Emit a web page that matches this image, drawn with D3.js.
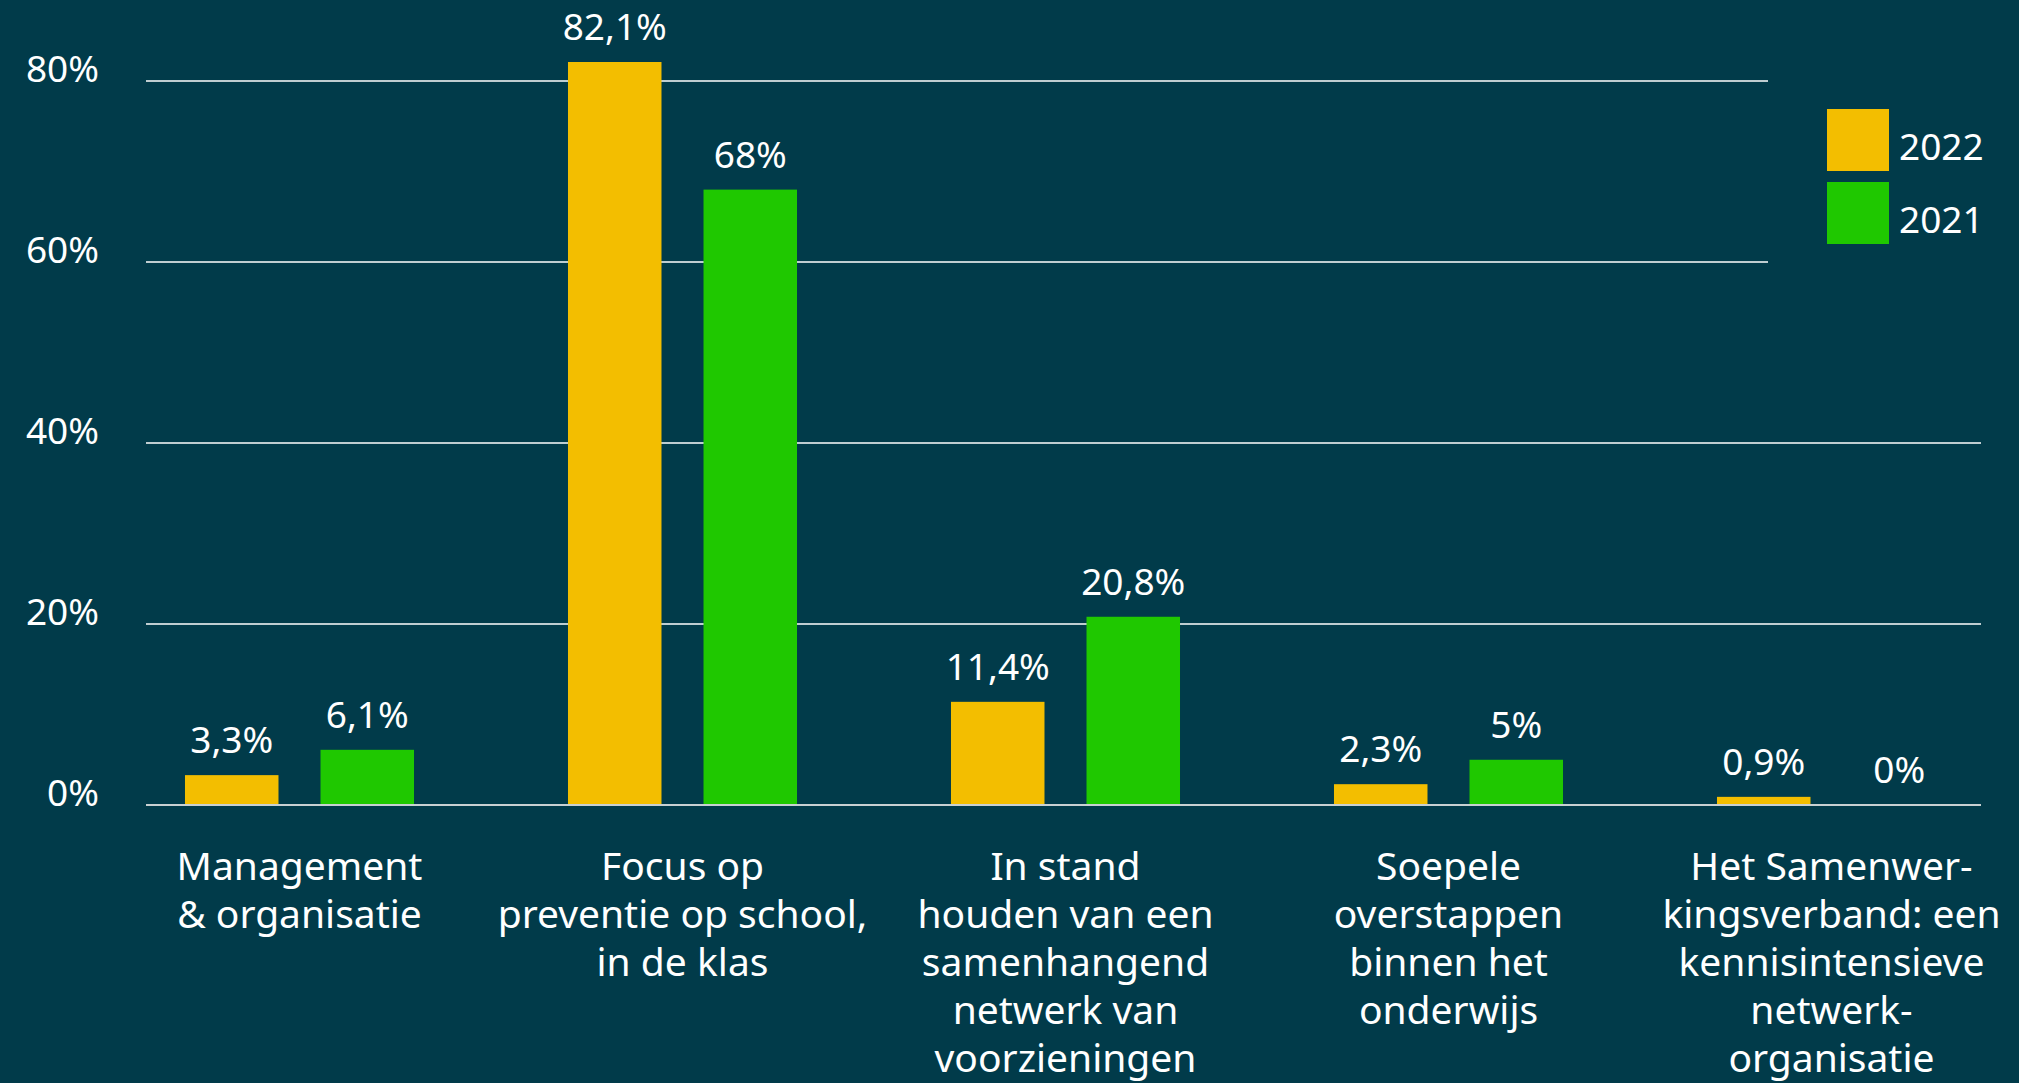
<!DOCTYPE html>
<html>
<head>
<meta charset="utf-8">
<script src="https://cdn.jsdelivr.net/npm/d3@7"></script>
<style>
  html, body { margin: 0; padding: 0; background: #013b4a; }
  svg { display: block; font-family: 'Noto Sans', sans-serif; }
</style>
</head>
<body>
<svg id="chart" width="2019" height="1083"></svg>
<script>
// data
const categories = ['Management & organisatie', 'Focus op preventie op school, in de klas',
  'In stand houden van een samenhangend netwerk van voorzieningen',
  'Soepele overstappen binnen het onderwijs',
  'Het Samenwerkingsverband: een kennisintensieve netwerkorganisatie']
const categoryLines = [
  ['Management', '& organisatie'],
  ['Focus op', 'preventie op school,', 'in de klas'],
  ['In stand', 'houden van een', 'samenhangend', 'netwerk van', 'voorzieningen'],
  ['Soepele', 'overstappen', 'binnen het', 'onderwijs'],
  ['Het Samenwer-', 'kingsverband: een', 'kennisintensieve', 'netwerk-', 'organisatie']
]
const series = ['2022', '2021']
const values2022 = [3.3, 82.1, 11.4, 2.3, 0.9]
const values2021 = [6.1, 68, 20.8, 5, 0]
const yTicks = [0, 20, 40, 60, 80]
const colors = ['#f3be00', '#1fc800']

const bg = '#013b4a'
const svg = d3.select('#chart')

const fmt = v => String(v).replace('.', ',') + '%'

const y = d3.scaleLinear().domain([0, 80]).range([805, 81])
const x0 = d3.scaleBand().domain(categories).range([108, 2023]).paddingInner(0.402).paddingOuter(0.201)
const x1 = d3.scaleBand().domain(series).range([0, x0.bandwidth()]).paddingInner(0.31)

const gridLeft = 146, gridRight = 1981

// gridlines
svg.append('g')
  .selectAll('line')
  .data(yTicks.filter(d => d > 0))
  .enter().append('line')
  .attr('x1', gridLeft).attr('x2', gridRight)
  .attr('y1', d => y(d)).attr('y2', d => y(d))
  .attr('stroke', '#ffffff')
  .attr('stroke-width', 1.5)

// y axis labels
svg.append('g')
  .call(d3.axisLeft(y).tickValues(yTicks).tickFormat(d => d + '%').tickSize(0).tickPadding(0))
  .attr('transform', 'translate(99,0)')
  .call(g => g.select('.domain').remove())
  .selectAll('text')
  .attr('dy', '0.02em')
  .style('font-size', '37px')
  .style('font-family', "'Noto Sans', sans-serif")
  .attr('fill', '#ffffff')

// bars
const rows = categories.map((c, i) => ({ cat: c, vals: [values2022[i], values2021[i]] }))
const groups = svg.append('g')
  .selectAll('g')
  .data(rows)
  .enter().append('g')
  .attr('transform', d => 'translate(' + x0(d.cat) + ',0)')

groups.selectAll('rect')
  .data(d => d.vals.map((v, j) => ({ s: series[j], v: v, j: j })))
  .enter().append('rect')
  .attr('x', d => x1(d.s))
  .attr('width', x1.bandwidth())
  .attr('y', d => y(d.v))
  .attr('height', d => y(0) - y(d.v))
  .attr('fill', d => colors[d.j])

groups.selectAll('text')
  .data(d => d.vals.map((v, j) => ({ s: series[j], v: v })))
  .enter().append('text')
  .attr('x', d => x1(d.s) + x1.bandwidth() / 2)
  .attr('y', d => y(d.v) - 22)
  .attr('text-anchor', 'middle')
  .style('font-size', '37px')
  .attr('fill', '#ffffff')
  .text(d => fmt(d.v))

// baseline
svg.append('line')
  .attr('x1', gridLeft).attr('x2', gridRight)
  .attr('y1', y(0)).attr('y2', y(0))
  .attr('stroke', '#c8d0d2')
  .attr('stroke-width', 2)

// category labels
const catText = svg.append('g')
  .selectAll('text')
  .data(categories)
  .enter().append('text')
  .attr('text-anchor', 'middle')
  .style('font-size', '39px')
  .attr('fill', '#ffffff')
catText.selectAll('tspan')
  .data((d, i) => categoryLines[i].map(t => ({ t: t, c: d })))
  .enter().append('tspan')
  .attr('x', d => x0(d.c) + x0.bandwidth() / 2)
  .attr('y', (d, k) => 880 + k * 48)
  .text(d => d.t)

// legend
const legend = svg.append('g').attr('transform', 'translate(1768,70)')
legend.append('rect').attr('width', 251).attr('height', 210).attr('fill', bg)
const li = legend.selectAll('g.item')
  .data(series)
  .enter().append('g')
  .attr('class', 'item')
  .attr('transform', (d, i) => 'translate(59,' + (39 + i * 73) + ')')
li.append('rect').attr('width', 62).attr('height', 62).attr('fill', (d, i) => colors[i])
li.append('text')
  .attr('x', 72).attr('y', 51)
  .style('font-size', '37px')
  .attr('fill', '#ffffff')
  .text(d => d)
</script>
</body>
</html>
